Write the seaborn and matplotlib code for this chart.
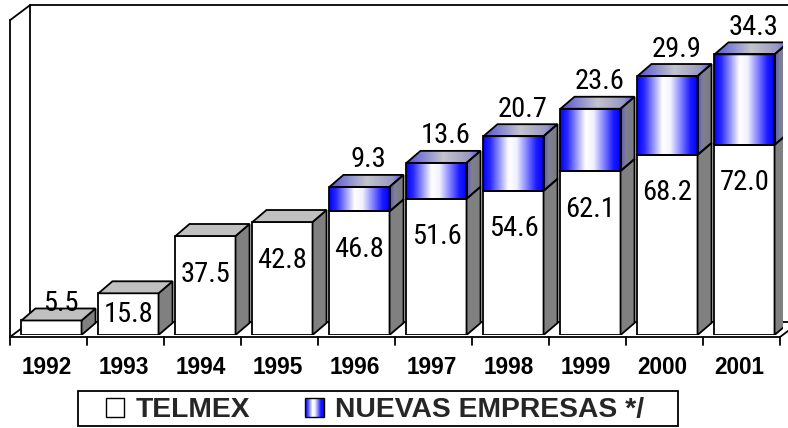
import os
import numpy as np
import pandas as pd
import matplotlib
matplotlib.use("Agg")
import matplotlib.pyplot as plt
import seaborn as sns
from matplotlib.patches import Polygon, Rectangle
from matplotlib.lines import Line2D
from matplotlib.colors import LinearSegmentedColormap
from matplotlib.legend_handler import HandlerBase
from matplotlib.transforms import IdentityTransform
from matplotlib import font_manager
from matplotlib.font_manager import FontProperties

# ---------------- data ----------------
years = ["1992", "1993", "1994", "1995", "1996", "1997", "1998", "1999", "2000", "2001"]
telmex = [5.5, 15.8, 37.5, 42.8, 46.8, 51.6, 54.6, 62.1, 68.2, 72.0]
nuevas = [0, 0, 0, 0, 9.3, 13.6, 20.7, 23.6, 29.9, 34.3]
series_names = ["TELMEX", "NUEVAS EMPRESAS */"]

sns.set_theme(style="white")
plt.rcParams["font.family"] = ["Liberation Sans", "DejaVu Sans"]

VAL_FS = 20.5


def pick_narrow():
    files = [f.fname for f in font_manager.fontManager.ttflist]
    prefs = ["liberationsansnarrow-regular", "arialnarrow", "arialn.ttf",
             "robotocondensed-regular", "opensans_condensed-regular",
             "opensans-condensedregular", "notosans-condensed.ttf",
             "notosans-condensedregular", "notosans-condensed-regular",
             "dejavusanscondensed.ttf"]
    low = {f: os.path.basename(f).lower() for f in files}
    for p in prefs:
        for f, b in low.items():
            if b.startswith(p) or b == p:
                return FontProperties(fname=f, size=VAL_FS)
    for f, b in low.items():
        if ("narrow" in b or "condensed" in b) and not any(
                s in b for s in ("bold", "italic", "oblique", "light", "thin", "black", "medium", "semi", "extra")):
            return FontProperties(fname=f, size=VAL_FS)
    return FontProperties(family="Roboto", size=VAL_FS - 1)


NARROW_FP = pick_narrow()

W, H = 788, 428
fig = plt.figure(figsize=(W / 100, H / 100), dpi=100)
fig.patch.set_facecolor("white")

PX_L, PX_R, PX_B = 13, 783, 335
PPU = 2.64
YMAX = 120
ax = fig.add_axes([PX_L / W, (H - PX_B) / H, (PX_R - PX_L) / W, YMAX * PPU / H])
ax.set_facecolor("white")

df = pd.DataFrame({"year": years, "telmex": telmex, "nuevas": nuevas})
sub = df[df["nuevas"] > 0]

LW = 1.3
sns.barplot(data=df, x="year", y="telmex", order=years, color="white", saturation=1,
            width=0.78, errorbar=None, edgecolor="black", linewidth=LW, ax=ax, zorder=3)
sns.barplot(data=sub, x="year", y="nuevas", order=years, color="#0000ff", saturation=1,
            width=0.78, errorbar=None, edgecolor="black", linewidth=LW,
            bottom=sub["telmex"].to_numpy(), ax=ax, zorder=3)

ax.set_xlim(-0.5, len(years) - 0.5)
ax.set_ylim(0, YMAX)
ax.axis("off")

white_bars = list(ax.containers[0])
blue_bars = list(ax.containers[1])

front_cmap = LinearSegmentedColormap.from_list(
    "front", [(0, "#0000ff"), (0.12, "#2a2aff"), (0.42, "#ffffff"), (0.55, "#f2f2ff"),
              (0.88, "#1a1aff"), (1, "#0000ff")])
top_cmap = LinearSegmentedColormap.from_list(
    "top", [(0, "#5050d8"), (0.5, "#c4c4cc"), (0.85, "#9898c4"), (1, "#4848e8")])
side_cmap = LinearSegmentedColormap.from_list(
    "side", [(0, "#5858c0"), (0.35, "#808092"), (1, "#7a7a7a")])

DX, DY = 14, 12  # bar depth (display px)


def to_disp(x, y):
    return ax.transData.transform((x, y))


def to_data(px, py):
    return ax.transData.inverted().transform((px, py))


def face(pts):
    out = []
    for (x, y), (ox, oy) in pts:
        px, py = to_disp(x, y)
        out.append(to_data(px + ox, py + oy))
    return np.array(out)


def grad_fill(patch, verts, cmap, z):
    xmin, ymin = verts.min(axis=0)
    xmax, ymax = verts.max(axis=0)
    im = ax.imshow(np.linspace(0, 1, 256)[None, :], cmap=cmap, extent=(xmin, xmax, ymin, ymax),
                   aspect="auto", interpolation="bilinear", origin="lower", zorder=z)
    im.set_clip_path(patch)


def side_and_top(r, side_color, top_color, draw_top):
    x0, y0, w, h = r.get_x(), r.get_y(), r.get_width(), r.get_height()
    side = face([((x0 + w, y0), (0, 0)), ((x0 + w, y0 + h), (0, 0)),
                 ((x0 + w, y0 + h), (DX, DY)), ((x0 + w, y0), (DX, DY))])
    top = face([((x0, y0 + h), (0, 0)), ((x0 + w, y0 + h), (0, 0)),
                ((x0 + w, y0 + h), (DX, DY)), ((x0, y0 + h), (DX, DY))])
    for verts, col in [(side, side_color)] + ([(top, top_color)] if draw_top else []):
        if isinstance(col, str):
            p = Polygon(verts, closed=True, facecolor=col, edgecolor="black", lw=LW, zorder=3)
            ax.add_patch(p)
        else:
            p = Polygon(verts, closed=True, facecolor="none", edgecolor="black", lw=LW, zorder=3)
            ax.add_patch(p)
            grad_fill(p, verts, col, 2.9)


for i, r in enumerate(white_bars):
    side_and_top(r, "#808080", "#c0c0c0", nuevas[i] == 0)

for r in blue_bars:
    r.set_facecolor("none")
    x0, y0, w, h = r.get_x(), r.get_y(), r.get_width(), r.get_height()
    grad_fill(r, np.array([[x0, y0], [x0 + w, y0 + h]]), front_cmap, 2.9)
    side_and_top(r, side_cmap, top_cmap, True)

# ---------------- value labels ----------------
for i, r in enumerate(white_bars):
    x0, y0, w, h = r.get_x(), r.get_y(), r.get_width(), r.get_height()
    cx, ty = to_disp(x0 + w / 2, y0 + h)
    _, by = to_disp(x0 + w / 2, y0)
    hp = ty - by
    if hp >= 30:
        lx, ly = to_data(cx, ty - min(38, hp / 2))
    else:
        lx, ly = to_data(cx + 9, ty + 17)
    ax.text(lx, ly, f"{telmex[i]:.1f}", ha="center", va="center", fontproperties=NARROW_FP,
            color="black", zorder=6, clip_on=False)

blue_vals = [v for v in nuevas if v > 0]
for v, r in zip(blue_vals, blue_bars):
    x0, y0, w, h = r.get_x(), r.get_y(), r.get_width(), r.get_height()
    cx, ty = to_disp(x0 + w / 2, y0 + h)
    lx, ly = to_data(cx + 9, ty + 27)
    ax.text(lx, ly, f"{v:.1f}", ha="center", va="center", fontproperties=NARROW_FP,
            color="black", zorder=6, clip_on=False)

# ---------------- frame (3D walls / floor) ----------------
x0p, y0p = to_disp(-0.5, 0)
x1p, _ = to_disp(len(years) - 0.5, 0)
_, ytp = to_disp(-0.5, YMAX)
FL = np.array([x0p - 3, y0p - 2])
FR = np.array([x1p - 3, y0p - 2])
WTL = np.array([x0p - 3, ytp - 2])
WD = np.array([20, 15])
WTR = np.array([x1p - 3, ytp - 2]) + WD


def seg(a, b, z=1):
    ax.add_line(Line2D([a[0], b[0]], [a[1], b[1]], color="black", lw=LW,
                       transform=IdentityTransform(), clip_on=False, zorder=z))


seg(FL + WD, FR + WD, z=1)      # back floor edge
seg(FL + WD, WTL + WD, z=1)     # back wall left vertical
seg(WTL + WD, WTR, z=1)         # back wall top
seg(FL, WTL, z=5)               # left wall front vertical
seg(WTL, WTL + WD, z=5)         # left wall top
seg(FL, FL + WD, z=2)           # floor left
seg(FL, FR, z=5)                # floor front
seg(FR, FR + WD, z=2)           # floor right
for k in range(len(years) + 1):
    tx, _ = to_disp(-0.5 + k, 0)
    seg((tx - 3, y0p - 2), (tx - 3, y0p - 10), z=5)

for i, yr in enumerate(years):
    cx, _ = to_disp(i, 0)
    lx, ly = to_data(cx - 5, y0p - 33)
    ax.text(lx, ly, yr, ha="center", va="center", fontsize=16.3, fontweight="bold",
            color="black", clip_on=False, zorder=6)

# ---------------- legend ----------------
class GradHandler(HandlerBase):
    def create_artists(self, legend, orig_handle, xdescent, ydescent, width, height,
                       fontsize, trans):
        n = 18
        arts = []
        for j in range(n):
            t = (j + 0.5) / n
            arts.append(Rectangle((-xdescent + j * width / n, -ydescent), width / n + 0.2, height,
                                  facecolor=front_cmap(t), edgecolor="none", transform=trans))
        arts.append(Rectangle((-xdescent, -ydescent), width, height, facecolor="none",
                              edgecolor="black", lw=1.0, transform=trans))
        return arts


h1 = Rectangle((0, 0), 1, 1, facecolor="white", edgecolor="black", lw=1.0)
h2 = Rectangle((0, 0), 1, 1, facecolor="#0000ff", edgecolor="black", lw=1.0)
fig.legend(handles=[h1, h2], labels=series_names, handler_map={h2: GradHandler()},
           loc="center left", bbox_to_anchor=(106 / W, (H - 410) / H), ncol=2, frameon=False,
           prop=dict(weight="bold", size=20.3), handlelength=0.65, handleheight=0.65,
           handletextpad=0.4, columnspacing=1.95, borderpad=0, borderaxespad=0)
fig.add_artist(Rectangle((78 / W, 2 / H), 600 / W, 35 / H, transform=fig.transFigure,
                         fill=False, edgecolor="black", lw=LW))

fig.savefig("out.png", dpi=100)
